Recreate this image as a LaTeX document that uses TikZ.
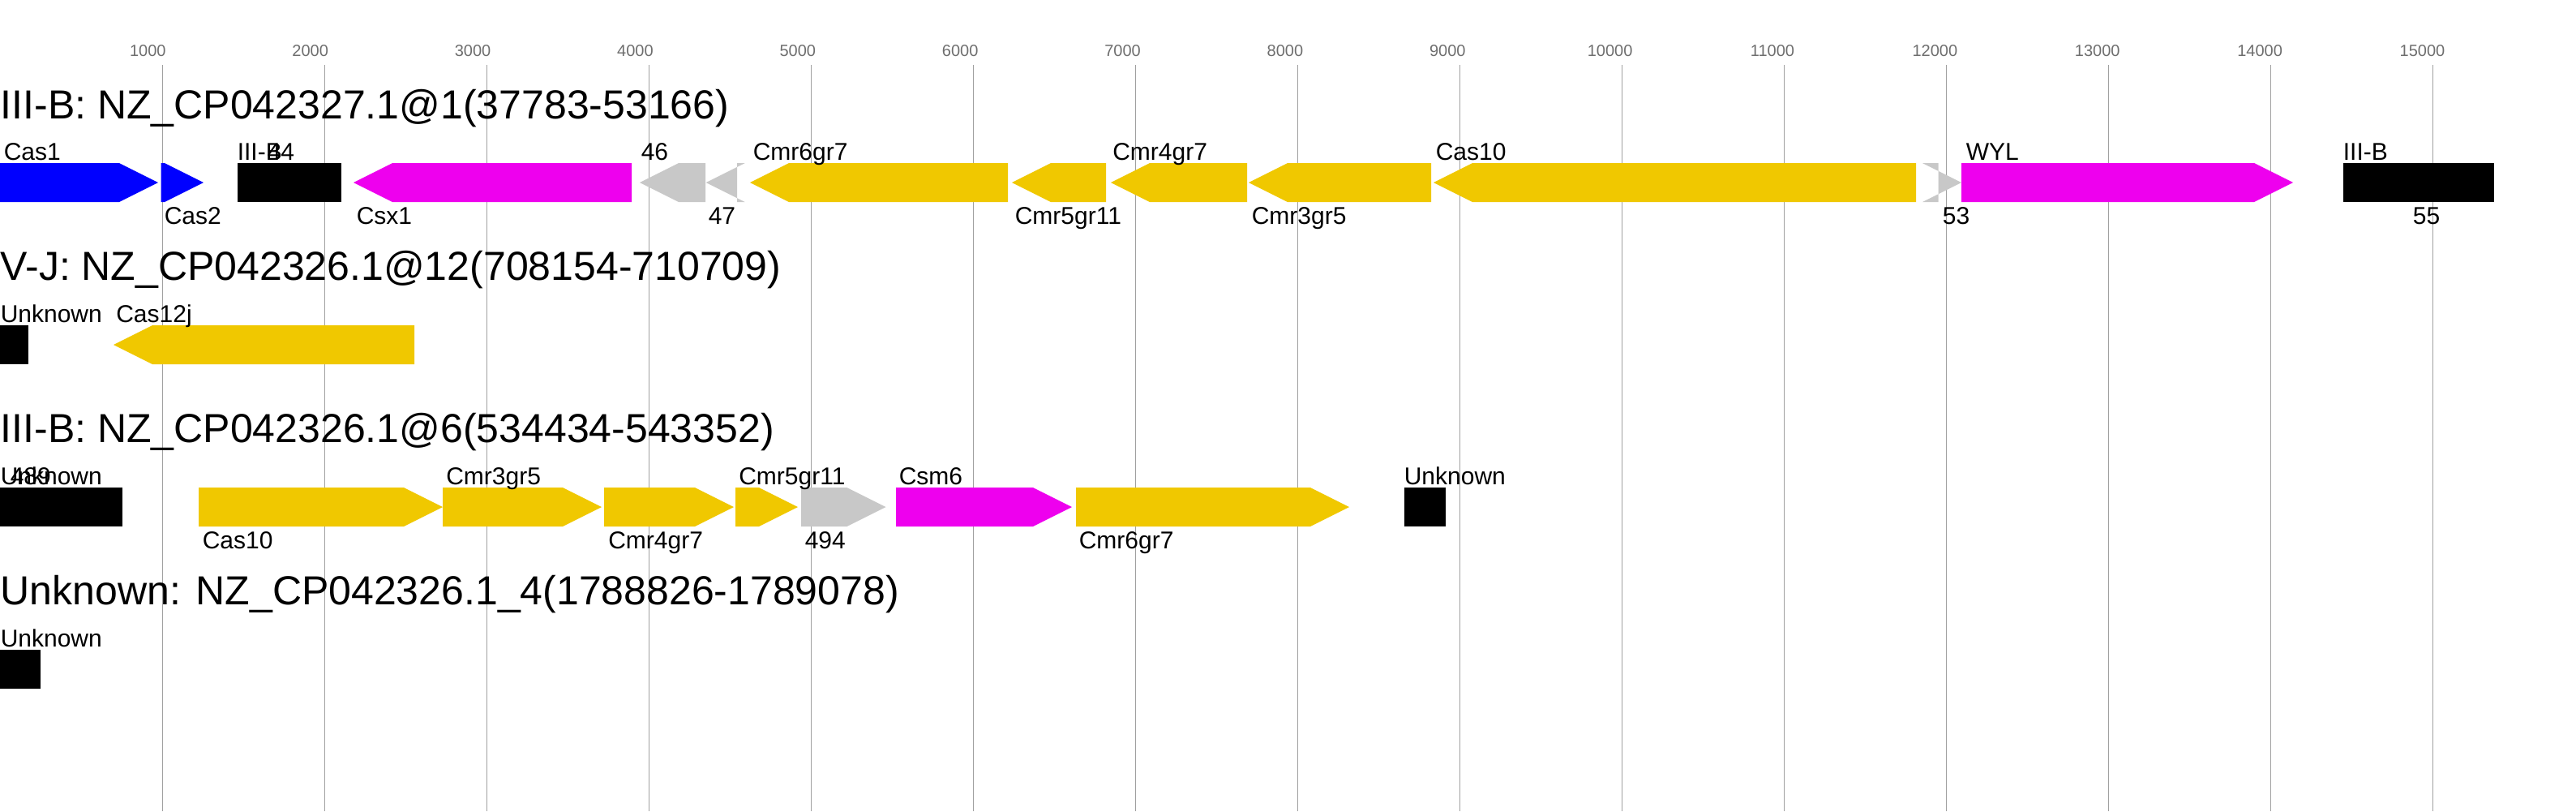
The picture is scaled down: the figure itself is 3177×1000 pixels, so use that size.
\documentclass[tikz,border=0pt]{standalone}
\usepackage{fontspec}
\setmainfont{Liberation Sans}
\definecolor{gyellow}{RGB}{240,200,0}
\definecolor{gmag}{RGB}{238,0,238}
\definecolor{gblue}{RGB}{0,0,255}
\definecolor{ggray}{RGB}{200,200,200}
\definecolor{gridc}{RGB}{160,160,160}
\definecolor{tickc}{RGB}{110,110,110}
\tikzset{
  rowtitle/.style={anchor=base west, inner sep=0pt, font=\fontsize{12.5}{14}\selectfont},
  glabel/.style={anchor=base west, inner sep=0pt, font=\fontsize{7.5}{9}\selectfont},
  ticklabel/.style={anchor=base, inner sep=0pt, text=tickc, font=\fontsize{5}{6}\selectfont},
  gridline/.style={draw=gridc, line width=0.25pt},
}
% forward gene: x0, x1, top, colour
\newcommand\gfwd[4]{\fill[#4] (#1,#3) -- ({#2-48},#3) -- (#2,{#3+24}) -- ({#2-48},{#3+48}) -- (#1,{#3+48}) -- cycle;}
% reverse gene
\newcommand\grev[4]{\fill[#4] (#2,#3) -- ({#1+48},#3) -- (#1,{#3+24}) -- ({#1+48},{#3+48}) -- (#2,{#3+48}) -- cycle;}
% undirected gene
\newcommand\grect[4]{\fill[#4] (#1,#3) rectangle (#2,{#3+48});}
\begin{document}
\begin{tikzpicture}[x=0.25pt,y=-0.25pt]
\useasboundingbox (0,0) rectangle (3177,1000);
\fill[white] (0,0) rectangle (3177,1000);
% grid and scale
\foreach \k in {1,...,15} {
  \pgfmathsetmacro\gx{200*\k}
  \pgfmathsetmacro\lx{200*\k-17.7+0.3714*(\k-1)}
  \draw[gridline] (\gx,80) -- (\gx,1000);
  \node[ticklabel] (t\k) at (\lx,69) {\number\numexpr\k*1000\relax};
}
% ---------- row 1
\node[rowtitle] (title1) at (0,146) {III-B: NZ\_CP042327.1@1(37783-53166)};
\gfwd{0}{195}{201}{gblue}
\gfwd{198.5}{251}{201}{gblue}
\grect{292.7}{420.7}{201}{black}
\grev{436}{779}{201}{gmag}
\grev{789}{870}{201}{ggray}
\grev{870.7}{909}{201}{ggray}
\grev{925}{1243}{201}{gyellow}
\grev{1248}{1364}{201}{gyellow}
\grev{1370}{1538}{201}{gyellow}
\grev{1540}{1765}{201}{gyellow}
\grev{1768}{2363}{201}{gyellow}
\gfwd{2390.5}{2419}{201}{ggray}
\gfwd{2419}{2828}{201}{gmag}
\grect{2890}{3076}{201}{black}
\node[glabel] (l1a) at (4,197) {Cas1};
\node[glabel] (l1b) at (202,276) {Cas2};
\node[glabel] (l1c) at (292,197) {III-B};
\node[glabel] (l1d) at (329,197) {44};
\node[glabel] (l1e) at (439,276) {Csx1};
\node[glabel] (l1f) at (790,197) {46};
\node[glabel] (l1g) at (873,276) {47};
\node[glabel] (l1h) at (928,197) {Cmr6gr7};
\node[glabel] (l1i) at (1251,276) {Cmr5gr11};
\node[glabel] (l1j) at (1371.5,197) {Cmr4gr7};
\node[glabel] (l1k) at (1543,276) {Cmr3gr5};
\node[glabel] (l1l) at (1770,197) {Cas10};
\node[glabel] (l1m) at (2395,276) {53};
\node[glabel] (l1n) at (2424,197) {WYL};
\node[glabel] (l1o) at (2889,197) {III-B};
\node[glabel] (l1p) at (2975,276) {55};
% ---------- row 2
\node[rowtitle] (title2) at (0,345) {V-J: NZ\_CP042326.1@12(708154-710709)};
\grect{0}{35}{401}{black}
\grev{140}{511}{401}{gyellow}
\node[glabel] (l2a) at (0,397) {Unknown};
\node[glabel] (l2b) at (142.5,397) {Cas12j};
% ---------- row 3
\node[rowtitle] (title3) at (0,545) {III-B: NZ\_CP042326.1@6(534434-543352)};
\grect{0}{151}{601}{black}
\gfwd{245}{546}{601}{gyellow}
\gfwd{546}{742}{601}{gyellow}
\gfwd{745}{905}{601}{gyellow}
\gfwd{907}{984}{601}{gyellow}
\gfwd{988}{1092.5}{601}{ggray}
\gfwd{1105}{1322}{601}{gmag}
\gfwd{1327}{1664}{601}{gyellow}
\grect{1732}{1783}{601}{black}
\node[glabel] (l3a) at (0,597) {Unknown};
\node[glabel] (l3b) at (12,597) {489};
\node[glabel] (l3c) at (249,676) {Cas10};
\node[glabel] (l3d) at (549.5,597) {Cmr3gr5};
\node[glabel] (l3e) at (749.5,676) {Cmr4gr7};
\node[glabel] (l3f) at (910.5,597) {Cmr5gr11};
\node[glabel] (l3g) at (992,676) {494};
\node[glabel] (l3h) at (1108,597) {Csm6};
\node[glabel] (l3i) at (1330,676) {Cmr6gr7};
\node[glabel] (l3j) at (1731,597) {Unknown};
% ---------- row 4
\node[rowtitle] (title4) at (0,745) {Unknown: NZ\_CP042326.1\_4(1788826-1789078)};
\grect{0}{50}{801}{black}
\node[glabel] (l4a) at (0,797) {Unknown};
\end{tikzpicture}
\end{document}
